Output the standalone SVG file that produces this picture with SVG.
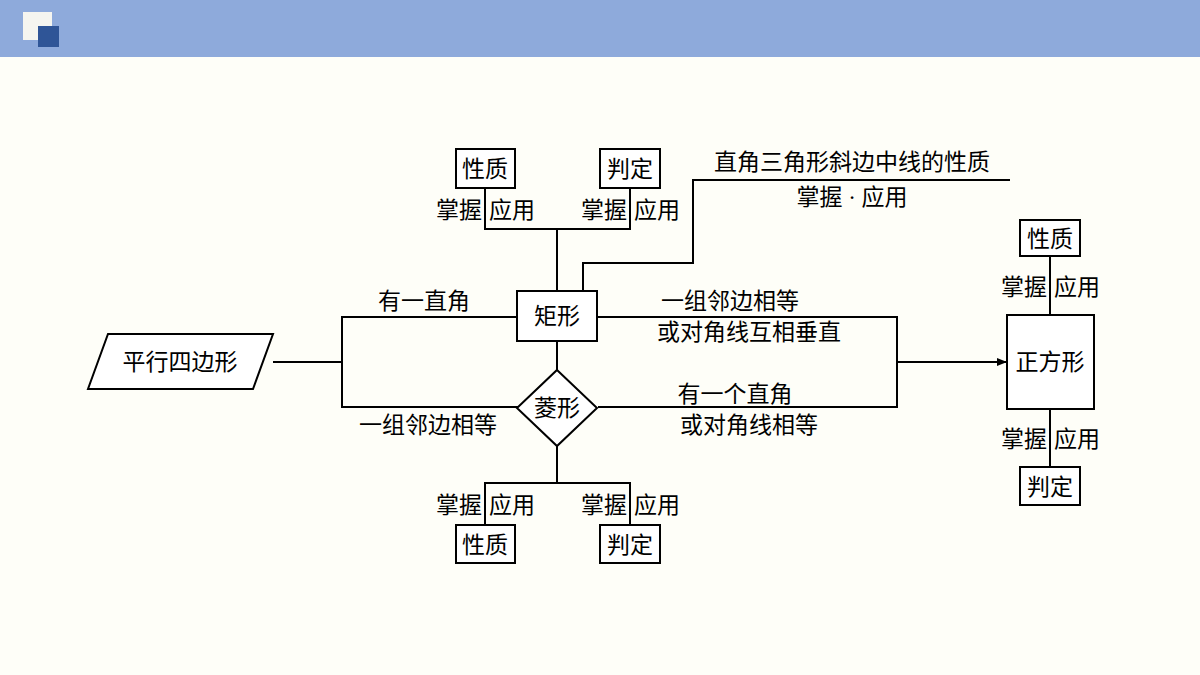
<svg xmlns="http://www.w3.org/2000/svg" width="1200" height="675" viewBox="0 0 1200 675">
<style>
.b{fill:#fff;stroke:#000;stroke-width:2}
.l{fill:none;stroke:#000;stroke-width:2}
text{font-family:"Liberation Serif","Noto Sans CJK SC",serif;font-size:23px;fill:#000}
.m{text-anchor:middle}.e{text-anchor:end}
</style>
<defs><marker id="a" markerWidth="10" markerHeight="8" refX="9" refY="4" orient="auto" markerUnits="userSpaceOnUse"><path d="M0,0L10,4L0,8z" fill="#000"/></marker></defs>
<rect width="1200" height="675" fill="#fefef8"/>
<rect width="1200" height="57" fill="#8eaadb"/>
<rect x="23" y="12" width="29" height="28" fill="#f5f5f0"/>
<rect x="38" y="26" width="21" height="21" fill="#2f5597"/>
<g id="connectors" class="l">
<path d="M485,188V229H630V188M557,229V291"/>
<path d="M583,291V263H693V180H1010"/>
<path d="M517,317H342V407H518M597,317H897V407H598"/>
<path d="M273,362H342"/>
<path d="M897,362H1006" marker-end="url(#a)"/>
<path d="M557,341V370M557,446V483M485,525V483H630V525"/>
<path d="M1050,256V315M1050,409V467"/>
</g>
<g id="n1"><path class="b" d="M108,334H273L253,389H88z"/><text x="180" y="370" class="m">平行四边形</text></g>
<g id="n2"><rect class="b" x="517" y="291" width="80" height="50"/><text x="557" y="324" class="m">矩形</text></g>
<g id="n3"><path class="b" d="M557,370L597,408L557,446L517,408z"/><text x="557" y="416" class="m">菱形</text></g>
<g id="n4"><rect class="b" x="1007" y="315" width="87" height="94"/><text x="1050" y="370" class="m">正方形</text></g>
<g id="n5"><rect class="b" x="456" y="149" width="59" height="39"/><text x="485" y="177" class="m">性质</text></g>
<g id="n6"><rect class="b" x="600" y="149" width="60" height="39"/><text x="630" y="177" class="m">判定</text></g>
<g id="n7"><rect class="b" x="456" y="525" width="59" height="38"/><text x="485" y="553" class="m">性质</text></g>
<g id="n8"><rect class="b" x="600" y="525" width="60" height="38"/><text x="630" y="553" class="m">判定</text></g>
<g id="n9"><rect class="b" x="1020" y="220" width="60" height="36"/><text x="1050" y="247" class="m">性质</text></g>
<g id="n10"><rect class="b" x="1020" y="467" width="60" height="38"/><text x="1050" y="495" class="m">判定</text></g>
<g id="labels">
<text x="482" y="218" class="e">掌握</text><text x="489" y="218">应用</text>
<text x="627" y="218" class="e">掌握</text><text x="634" y="218">应用</text>
<text x="482" y="513" class="e">掌握</text><text x="489" y="513">应用</text>
<text x="627" y="513" class="e">掌握</text><text x="634" y="513">应用</text>
<text x="1047" y="295" class="e">掌握</text><text x="1054" y="295">应用</text>
<text x="1047" y="447" class="e">掌握</text><text x="1054" y="447">应用</text>
<text x="852" y="170" class="m">直角三角形斜边中线的性质</text>
<text x="852" y="205" class="m">掌握 · 应用</text>
<text x="424" y="309" class="m">有一直角</text>
<text x="428" y="433" class="m">一组邻边相等</text>
<text x="730" y="309" class="m">一组邻边相等</text>
<text x="749" y="340" class="m">或对角线互相垂直</text>
<text x="735" y="402" class="m">有一个直角</text>
<text x="749" y="433" class="m">或对角线相等</text>
</g>
</svg>
